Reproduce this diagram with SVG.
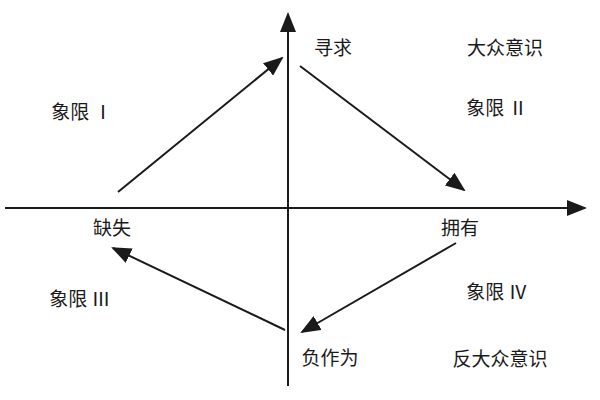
<svg xmlns="http://www.w3.org/2000/svg" width="600" height="400" viewBox="0 0 600 400">
<style>
text{font-family:"Noto Sans CJK SC","Liberation Serif",serif;font-size:19px;fill:#1a1a1a;text-anchor:middle}
.l{stroke:#1a1a1a;stroke-width:2;fill:none}
</style>
<defs><marker id="a" viewBox="0 0 10 10" refX="9" refY="5" markerWidth="10" markerHeight="10" markerUnits="userSpaceOnUse" orient="auto"><path d="M0,0L10,5L0,10z" fill="#1a1a1a"/></marker>
<marker id="b" viewBox="0 0 10 10" refX="9" refY="5" markerWidth="20" markerHeight="16" markerUnits="userSpaceOnUse" orient="auto" preserveAspectRatio="none"><path d="M0,0L10,5L0,10z" fill="#1a1a1a"/></marker></defs>
<rect width="600" height="400" fill="#fff"/>
<g id="connectors">
<line class="l" x1="5" y1="208" x2="585" y2="208" marker-end="url(#b)"/>
<line class="l" x1="288" y1="386" x2="288" y2="14" marker-end="url(#b)"/>
<line class="l" x1="118" y1="192" x2="282" y2="58" marker-end="url(#b)"/>
<line class="l" x1="300" y1="66" x2="464" y2="190" marker-end="url(#b)"/>
<line class="l" x1="456" y1="243" x2="302" y2="332" marker-end="url(#b)"/>
<line class="l" x1="285" y1="330" x2="113" y2="248" marker-end="url(#b)"/>
</g>
<g id="n1"><text x="333" y="55">寻求</text></g>
<g id="n2"><text x="505" y="55">大众意识</text></g>
<g id="n3"><text x="82" y="119">象限 Ⅰ</text></g>
<g id="n4"><text x="497" y="115">象限 Ⅱ</text></g>
<g id="n5"><text x="112" y="235">缺失</text></g>
<g id="n6"><text x="460" y="235">拥有</text></g>
<g id="n7"><text x="80" y="306">象限 Ⅲ</text></g>
<g id="n8"><text x="497" y="299">象限 Ⅳ</text></g>
<g id="n9"><text x="330" y="365">负作为</text></g>
<g id="n10"><text x="500" y="366">反大众意识</text></g>
</svg>
